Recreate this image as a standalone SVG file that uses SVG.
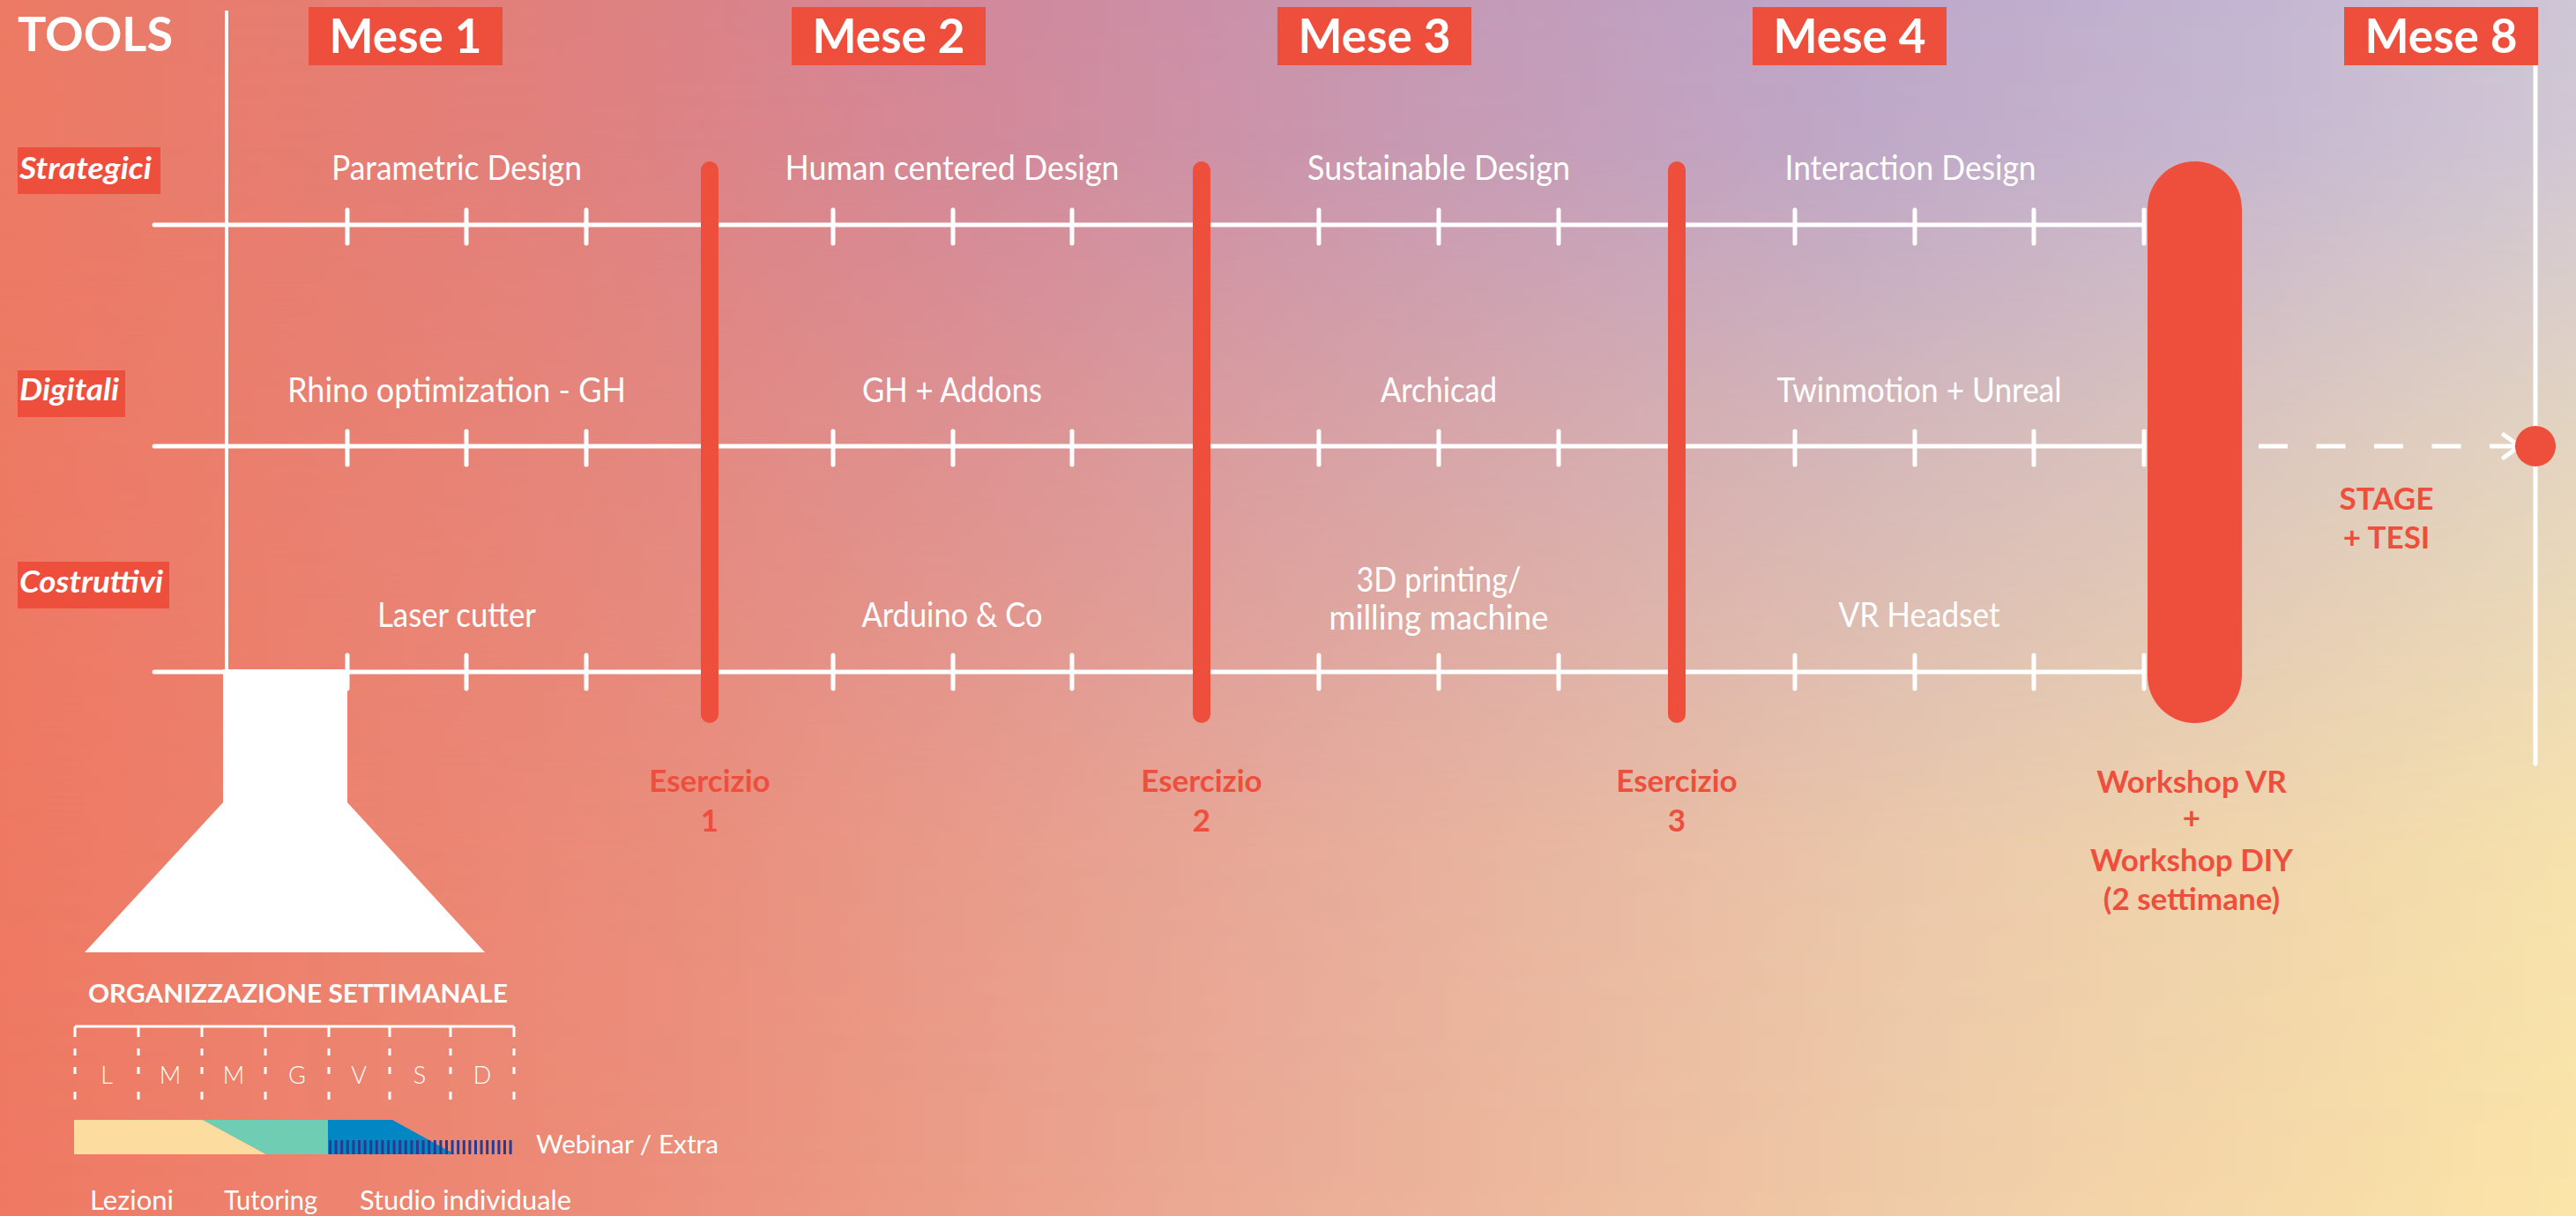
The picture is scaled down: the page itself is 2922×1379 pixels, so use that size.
<svg xmlns="http://www.w3.org/2000/svg" width="2922" height="1379" viewBox="0 0 2922 1379">
<style>
.txt{font-family:Lato,"Open Sans","Liberation Sans",sans-serif;fill:#fff}
.item{font-size:38px;text-anchor:middle;font-weight:400}
.mese{font-size:53px;font-weight:700;text-anchor:middle}
.row{font-size:34px;font-weight:700;font-style:italic}
.red{font-family:Lato,"Open Sans","Liberation Sans",sans-serif;fill:#EE4F3D;font-size:35px;font-weight:700;text-anchor:middle}
.box{fill:#EE4F3D}
.hline{stroke:#fff;stroke-width:5;stroke-linecap:round;fill:none}
.tick{stroke:#fff;stroke-width:5;stroke-linecap:round;fill:none}
.bar{stroke:#EE4F3D;stroke-width:20;stroke-linecap:round}
.grid{stroke:#fff;stroke-width:3;fill:none}
.day{font-size:27px;text-anchor:middle;font-weight:300}
.light{font-weight:400}
</style>
<defs>
<linearGradient id="gTop" x1="0" y1="0" x2="1" y2="0">
<stop offset="0" stop-color="#EC7A64"/>
<stop offset="0.2" stop-color="#E17F7B"/>
<stop offset="0.38" stop-color="#D1889A"/>
<stop offset="0.55" stop-color="#C598B4"/>
<stop offset="0.72" stop-color="#BCA6C9"/>
<stop offset="0.88" stop-color="#C4B6D2"/>
<stop offset="1" stop-color="#CFC6D6"/>
</linearGradient>
<linearGradient id="gBot" x1="0" y1="0" x2="1" y2="0">
<stop offset="0" stop-color="#EF7963"/>
<stop offset="0.25" stop-color="#EC8E7A"/>
<stop offset="0.5" stop-color="#EBAD97"/>
<stop offset="0.75" stop-color="#F0CDA8"/>
<stop offset="1" stop-color="#FBE5A8"/>
</linearGradient>
<linearGradient id="gMask" x1="0" y1="0" x2="0" y2="1">
<stop offset="0" stop-color="#fff"/>
<stop offset="0.12" stop-color="#fff" stop-opacity="0.95"/>
<stop offset="0.35" stop-color="#fff" stop-opacity="0.55"/>
<stop offset="0.7" stop-color="#fff" stop-opacity="0.1"/>
<stop offset="1" stop-color="#fff" stop-opacity="0"/>
</linearGradient>
<mask id="mTop"><rect width="2922" height="1379" fill="url(#gMask)"/></mask>
</defs>
<g id="background">
<rect width="2922" height="1379" fill="url(#gBot)"/>
<rect width="2922" height="1379" fill="url(#gTop)" mask="url(#mTop)"/>
</g>

<g id="axes">
<line x1="257" y1="12" x2="257" y2="762" stroke="#fff" stroke-width="4"/>
<line x1="2876" y1="74" x2="2876" y2="866" stroke="#fff" stroke-width="5" stroke-linecap="round"/>
</g>

<g id="timeline">
<line class="hline" x1="175" y1="255" x2="2432" y2="255"/>
<line class="hline" x1="175" y1="506" x2="2432" y2="506"/>
<line class="hline" x1="175" y1="762" x2="2432" y2="762"/>
<path class="tick" d="M394,238V276M529,238V276M665,238V276M945,238V276M1081,238V276M1216,238V276M1496,238V276M1632,238V276M1768,238V276M2036,238V276M2172,238V276M2307,238V276M2432,238V276"/>
<path class="tick" d="M394,489V527M529,489V527M665,489V527M945,489V527M1081,489V527M1216,489V527M1496,489V527M1632,489V527M1768,489V527M2036,489V527M2172,489V527M2307,489V527M2432,489V527"/>
<path class="tick" d="M394,743V781M529,743V781M665,743V781M945,743V781M1081,743V781M1216,743V781M1496,743V781M1632,743V781M1768,743V781M2036,743V781M2172,743V781M2307,743V781M2432,743V781"/>
</g>

<g id="tools-title"><text class="txt" x="20" y="58" font-size="54" font-weight="700">TOOLS</text></g>

<g id="mese-1"><rect class="box" x="350" y="8" width="220" height="66"/><text class="txt mese" x="460" y="60">Mese 1</text></g>
<g id="mese-2"><rect class="box" x="898" y="8" width="220" height="66"/><text class="txt mese" x="1008" y="60">Mese 2</text></g>
<g id="mese-3"><rect class="box" x="1449" y="8" width="220" height="66"/><text class="txt mese" x="1559" y="60">Mese 3</text></g>
<g id="mese-4"><rect class="box" x="1988" y="8" width="220" height="66"/><text class="txt mese" x="2098" y="60">Mese 4</text></g>
<g id="mese-8"><rect class="box" x="2659" y="8" width="220" height="66"/><text class="txt mese" x="2769" y="60">Mese 8</text></g>

<g id="row-strategici"><rect class="box" x="20" y="167" width="162" height="53"/><text class="txt row" x="22" y="203" textLength="150" lengthAdjust="spacingAndGlyphs">Strategici</text></g>
<g id="row-digitali"><rect class="box" x="20" y="420" width="122" height="53"/><text class="txt row" x="22" y="454" textLength="113" lengthAdjust="spacingAndGlyphs">Digitali</text></g>
<g id="row-costruttivi"><rect class="box" x="20" y="637" width="172" height="53"/><text class="txt row" x="22" y="672" textLength="163" lengthAdjust="spacingAndGlyphs">Costruttivi</text></g>

<g id="item-parametric"><text class="txt item" x="518" y="204" textLength="284" lengthAdjust="spacingAndGlyphs">Parametric Design</text></g>
<g id="item-human"><text class="txt item" x="1080" y="204" textLength="379" lengthAdjust="spacingAndGlyphs">Human centered Design</text></g>
<g id="item-sustainable"><text class="txt item" x="1632" y="204" textLength="298" lengthAdjust="spacingAndGlyphs">Sustainable Design</text></g>
<g id="item-interaction"><text class="txt item" x="2167" y="204" textLength="285" lengthAdjust="spacingAndGlyphs">Interaction Design</text></g>

<g id="item-rhino"><text class="txt item" x="518" y="456" textLength="384" lengthAdjust="spacingAndGlyphs">Rhino optimization - GH</text></g>
<g id="item-gh"><text class="txt item" x="1080" y="456" textLength="204" lengthAdjust="spacingAndGlyphs">GH + Addons</text></g>
<g id="item-archicad"><text class="txt item" x="1632" y="456" textLength="132" lengthAdjust="spacingAndGlyphs">Archicad</text></g>
<g id="item-twinmotion"><text class="txt item" x="2177" y="456" textLength="323" lengthAdjust="spacingAndGlyphs">Twinmotion + Unreal</text></g>

<g id="item-laser"><text class="txt item" x="518" y="711" textLength="180" lengthAdjust="spacingAndGlyphs">Laser cutter</text></g>
<g id="item-arduino"><text class="txt item" x="1080" y="711" textLength="205" lengthAdjust="spacingAndGlyphs">Arduino &amp; Co</text></g>
<g id="item-3dprinting"><text class="txt item" x="1632" y="671" textLength="187" lengthAdjust="spacingAndGlyphs">3D printing/</text><text class="txt item" x="1632" y="714" textLength="249" lengthAdjust="spacingAndGlyphs">milling machine</text></g>
<g id="item-vr"><text class="txt item" x="2177" y="711" textLength="183" lengthAdjust="spacingAndGlyphs">VR Headset</text></g>

<g id="esercizio-1"><line class="bar" x1="805" y1="193" x2="805" y2="810"/><text class="red" x="805" y="898">Esercizio</text><text class="red" x="805" y="943">1</text></g>
<g id="esercizio-2"><line class="bar" x1="1363" y1="193" x2="1363" y2="810"/><text class="red" x="1363" y="898">Esercizio</text><text class="red" x="1363" y="943">2</text></g>
<g id="esercizio-3"><line class="bar" x1="1902" y1="193" x2="1902" y2="810"/><text class="red" x="1902" y="898">Esercizio</text><text class="red" x="1902" y="943">3</text></g>

<g id="workshop"><rect class="box" x="2436" y="183" width="107" height="637" rx="53.5"/>
<text class="red" x="2486" y="899">Workshop VR</text>
<text class="red" x="2486" y="940" font-size="30">+</text>
<text class="red" x="2486" y="988">Workshop DIY</text>
<text class="red" x="2486" y="1032">(2 settimane)</text></g>

<g id="connectors">
<line x1="2562" y1="506" x2="2852" y2="506" stroke="#fff" stroke-width="5" stroke-dasharray="33 32.5"/>
<path d="M2840,493L2858,506L2840,519" fill="none" stroke="#fff" stroke-width="5" stroke-linecap="round" stroke-linejoin="round"/>
</g>

<g id="stage-tesi"><circle cx="2876" cy="506" r="23" fill="#EE4F3D"/>
<text class="red" x="2707" y="578">STAGE</text><text class="red" x="2707" y="622">+ TESI</text></g>

<g id="funnel"><polygon points="253,759 394,759 394,910 550,1080 96,1080 253,910" fill="#fff"/></g>

<g id="weekly">
<text class="txt" x="100" y="1137" font-size="29" font-weight="700" textLength="476" lengthAdjust="spacingAndGlyphs">ORGANIZZAZIONE SETTIMANALE</text>
<line class="grid" x1="85" y1="1164" x2="583" y2="1164"/>
<path class="grid" d="M85,1164V1176M85,1189V1197M85,1210V1218M85,1238V1247M157,1164V1176M157,1189V1197M157,1210V1218M157,1238V1247M229,1164V1176M229,1189V1197M229,1210V1218M229,1238V1247M301,1164V1176M301,1189V1197M301,1210V1218M301,1238V1247M373,1164V1176M373,1189V1197M373,1210V1218M373,1238V1247M442,1164V1176M442,1189V1197M442,1210V1218M442,1238V1247M511,1164V1176M511,1189V1197M511,1210V1218M511,1238V1247M583,1164V1176M583,1189V1197M583,1210V1218M583,1238V1247"/>
<text class="txt day" x="121" y="1229">L</text>
<text class="txt day" x="193" y="1229">M</text>
<text class="txt day" x="265" y="1229">M</text>
<text class="txt day" x="337" y="1229">G</text>
<text class="txt day" x="407" y="1229">V</text>
<text class="txt day" x="476" y="1229">S</text>
<text class="txt day" x="547" y="1229">D</text>
<polygon points="84,1270 230,1270 302,1309 84,1309" fill="#FDDCA0"/>
<polygon points="230,1270 372,1270 372,1309 302,1309" fill="#6FCDB3"/>
<polygon points="372,1270 445,1270 516,1309 372,1309" fill="#0386C4"/>
<line x1="373" y1="1301" x2="583" y2="1301" stroke="#2A3B8F" stroke-width="16" stroke-dasharray="3 3.6"/>
<text class="txt light" x="608" y="1308" font-size="28" textLength="207" lengthAdjust="spacingAndGlyphs">Webinar / Extra</text>
<text class="txt light" x="102" y="1372" font-size="30" textLength="95" lengthAdjust="spacingAndGlyphs">Lezioni</text>
<text class="txt light" x="254" y="1372" font-size="30" textLength="106" lengthAdjust="spacingAndGlyphs">Tutoring</text>
<text class="txt light" x="408" y="1372" font-size="30" textLength="240" lengthAdjust="spacingAndGlyphs">Studio individuale</text>
</g>
</svg>
